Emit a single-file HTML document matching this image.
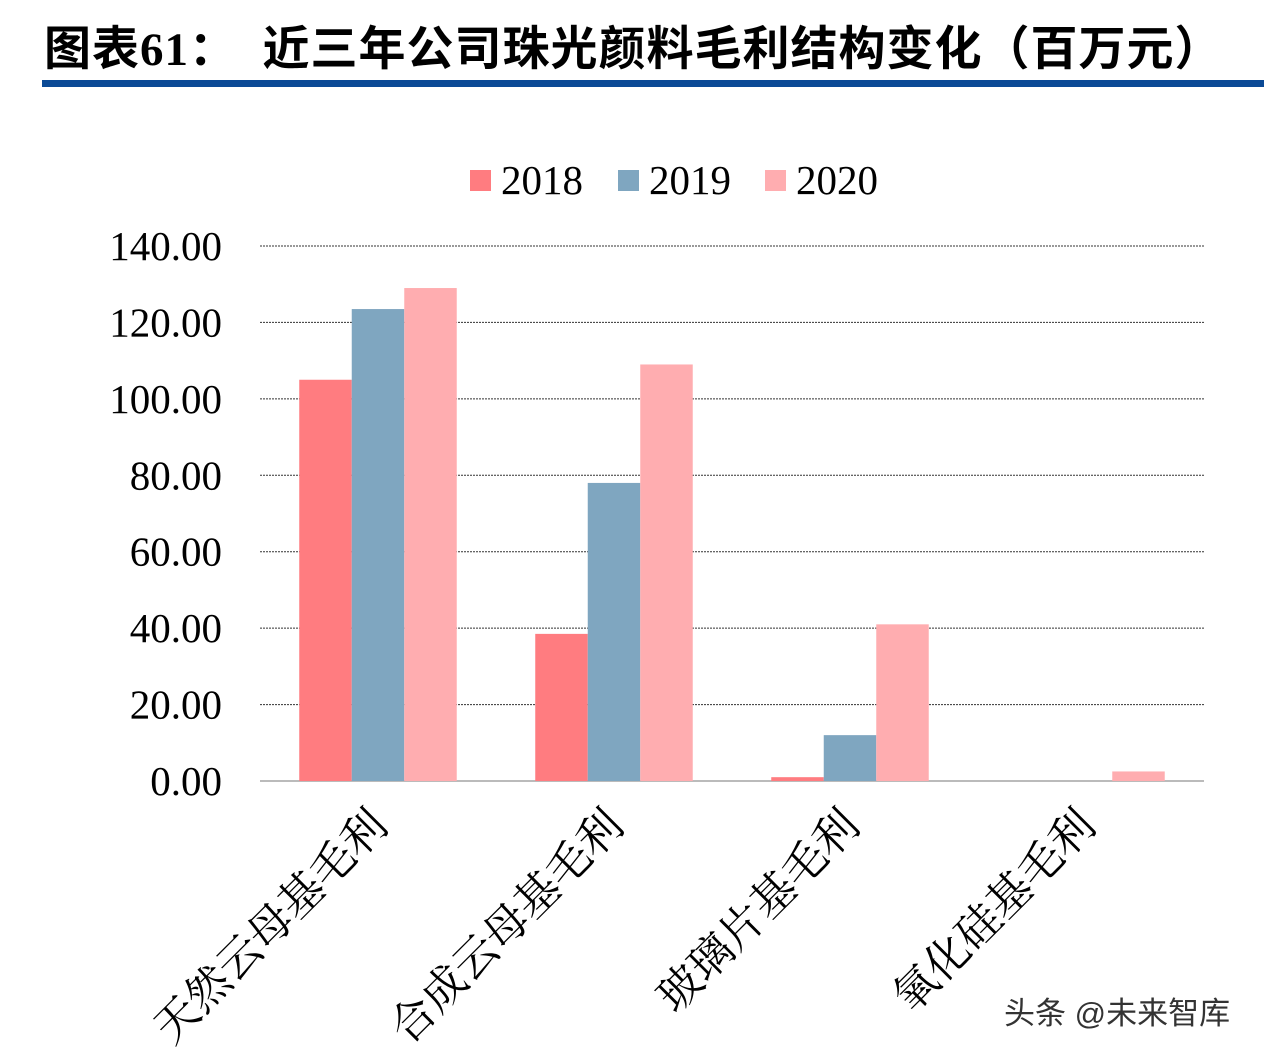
<!DOCTYPE html>
<html><head><meta charset="utf-8">
<style>
body{margin:0;width:1264px;height:1052px;background:#fff;overflow:hidden;position:relative;font-family:"Liberation Serif","Noto Serif CJK SC",serif}
#title{position:absolute;left:44px;top:10px;font-family:"Liberation Serif","Noto Sans CJK SC",sans-serif;font-weight:bold;font-size:47px;color:#000;white-space:pre;letter-spacing:1px}
#rule{position:absolute;left:42px;top:80px;width:1222px;height:7px;background:#0b4a96}
svg{position:absolute;left:0;top:0}
</style></head><body>
<div id="title">图表61：  近三年公司珠光颜料毛利结构变化（百万元）</div>
<div id="rule"></div>
<svg id="chart" width="1264" height="1052"></svg>
<div style="position:absolute;left:1004px;top:988px;font-family:'Liberation Sans','Noto Sans CJK SC',sans-serif;font-size:31px;color:#333">头条 @未来智库</div>
<script>
const categories=["天然云母基毛利","合成云母基毛利","玻璃片基毛利","氧化硅基毛利"];
const seriesNames=["2018","2019","2020"];
const v2018=[105,38.5,1,0];
const v2019=[123.5,78,12,0];
const v2020=[129,109,41,2.5];
const ticks=[0,20,40,60,80,100,120,140];
const colors=["#ff7c80","#7fa6c0","#ffadb0"];
const series=[v2018,v2019,v2020];
const svg=document.getElementById('chart');
const NS="http://www.w3.org/2000/svg";
const x0=260,x1=1204,y0=781,yTop=246,vmax=140;
const y=v=>y0-(v/vmax)*(y0-yTop);
const bw=(x1-x0)/categories.length;
const barW=52.5;
function mk(t,a){const e=document.createElementNS(NS,t);for(const k in a)e.setAttribute(k,a[k]);svg.appendChild(e);return e;}
ticks.forEach(t=>{
  const g=mk('line',{x1:x0,x2:x1,y1:y(t),y2:y(t),stroke:t===0?'#bbb':'#333','stroke-width':t===0?2:1,'stroke-dasharray':t===0?'none':'2,1'});
  
  
  const l=mk('text',{x:222,y:y(t)+14,'text-anchor':'end','font-size':41,fill:'#000'});
  l.textContent=t.toFixed(2);
  
  
});
categories.forEach((c,i)=>{
  const cx=x0+bw*i+bw/2;
  series.forEach((s,j)=>{
    const r=mk('rect',{x:cx-barW*1.5+barW*j,y:y(s[i]),width:barW,height:y0-y(s[i]),fill:colors[j]});
    
    
  });
  const tx=cx+12,ty=828;
  const t=mk('text',{x:tx,y:ty,'text-anchor':'end','font-size':44,fill:'#000',transform:`rotate(-45 ${tx} ${ty})`,'font-family':'"Liberation Serif","Noto Serif CJK SC",serif'});
  t.textContent=c;
  
  
});
const lx=[470,618,765];
seriesNames.forEach((n,j)=>{
  const r=mk('rect',{x:lx[j],y:170,width:21,height:21,fill:colors[j]});
  
  
  const t=mk('text',{x:lx[j]+31,y:194,'font-size':41,fill:'#000'});
  t.textContent=n;
  
  
});
</script>
</body></html>
